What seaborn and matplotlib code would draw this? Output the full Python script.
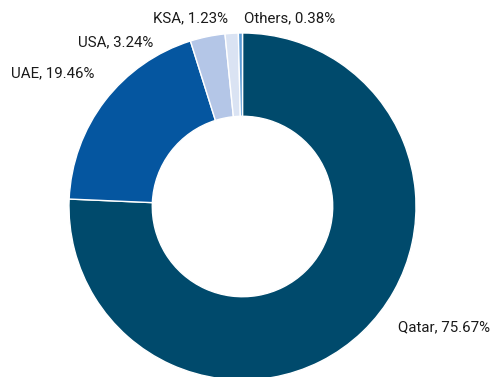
import matplotlib
matplotlib.use("Agg")
import matplotlib.pyplot as plt
import seaborn as sns

categories = ["Qatar", "UAE", "USA", "KSA", "Others"]
shares = [75.67, 19.46, 3.24, 1.23, 0.38]
colors = ["#004a6c", "#0556a0", "#b4c6e7", "#dae3f3", "#5b9bd5"]
# label anchor positions (layout, in axes data units where radius = 1)
label_pos = [(1.161, -0.695), (-1.092, 0.769), (-0.729, 0.948), (-0.297, 1.086), (0.271, 1.086)]

sns.set_theme(style="white")
plt.rcParams["font.family"] = ["Roboto", "DejaVu Sans"]

fig = plt.figure(figsize=(4.95, 3.77), dpi=100)
ax = fig.add_axes([0, 0, 1, 1])
ax.pie(shares, colors=colors, startangle=90, counterclock=False, radius=1.0,
       wedgeprops=dict(width=0.48, edgecolor="white", linewidth=1.0))
for cat, val, (x, y) in zip(categories, shares, label_pos):
    ax.text(x, y, f"{cat}, {val:.2f}%", ha="center", va="center", fontsize=10.8, color="#1a1a1a")
ax.set_aspect("auto")
ax.set_xlim(-242.5 / 173.5, (495 - 242.5) / 173.5)
ax.set_ylim(-170.5 / 173.5, 206.5 / 173.5)
ax.axis("off")
fig.savefig("out.png", dpi=100)
